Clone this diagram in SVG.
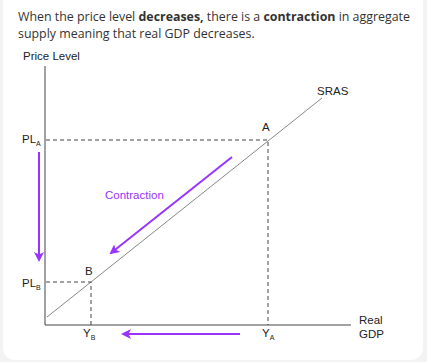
<svg xmlns="http://www.w3.org/2000/svg" width="427" height="362" viewBox="0 0 427 362">
<style>
.intro{font-family:"Open Sans","Liberation Sans",sans-serif;font-size:12.4px;fill:#333}
.lbl{font-family:"Liberation Sans",Arial,sans-serif;font-size:11.5px;fill:#222}
.sub{font-size:7px}
.axis{stroke:#444;stroke-width:1;fill:none}
.dash{stroke:#444;stroke-width:1;stroke-dasharray:4,3;fill:none}
.curve{stroke:#888;stroke-width:1;fill:none}
.parr{stroke:#9933ff;stroke-width:2;fill:none}
</style>
<defs>
<marker id="ah" markerWidth="10" markerHeight="10" refX="8" refY="5" orient="auto" markerUnits="userSpaceOnUse" viewBox="0 0 10 10">
<path d="M0,0 L10,5 L0,10 L2.5,5 Z" fill="#9933ff"/>
</marker>
</defs>
<rect x="0" y="0" width="427" height="362" fill="#f3f3f3"/>
<rect x="3" y="-20" width="420" height="380" rx="12" fill="#fff"/>
<g id="intro">
<text class="intro" x="18" y="21">When the price level <tspan font-weight="bold">decreases,</tspan> there is a <tspan font-weight="bold">contraction</tspan> in aggregate</text>
<text class="intro" x="18" y="38">supply meaning that real GDP decreases.</text>
</g>
<g id="axes">
<text class="lbl" x="23" y="60">Price Level</text>
<path class="axis" d="M45,66 V325 H351"/>
<text class="lbl" x="359" y="324">Real</text>
<text class="lbl" x="359" y="338">GDP</text>
</g>
<g id="sras">
<path class="curve" d="M47,317 L322,98"/>
<text class="lbl" x="317" y="95">SRAS</text>
</g>
<g id="pointA">
<text class="lbl" x="262" y="131">A</text>
<text class="lbl" x="22" y="143">PL<tspan class="sub" dy="3">A</tspan></text>
<text class="lbl" x="262" y="337">Y<tspan class="sub" dy="3">A</tspan></text>
</g>
<g id="pointB">
<text class="lbl" x="85" y="275">B</text>
<text class="lbl" x="22" y="287">PL<tspan class="sub" dy="3">B</tspan></text>
<text class="lbl" x="83" y="337">Y<tspan class="sub" dy="3">B</tspan></text>
</g>
<g id="connectors">
<path class="dash" d="M46,140 H268 V325"/>
<path class="dash" d="M46,282 H91 V325"/>
<path class="parr" d="M39,152 V260" marker-end="url(#ah)"/>
<path class="parr" d="M240,334 H123" marker-end="url(#ah)" stroke="#aa55ee"/>
<path class="parr" d="M232,157 L111,253" marker-end="url(#ah)"/>
</g>
<text x="105" y="199" font-family="Liberation Sans,Arial,sans-serif" font-size="11.5" fill="#9933ff">Contraction</text>
</svg>
